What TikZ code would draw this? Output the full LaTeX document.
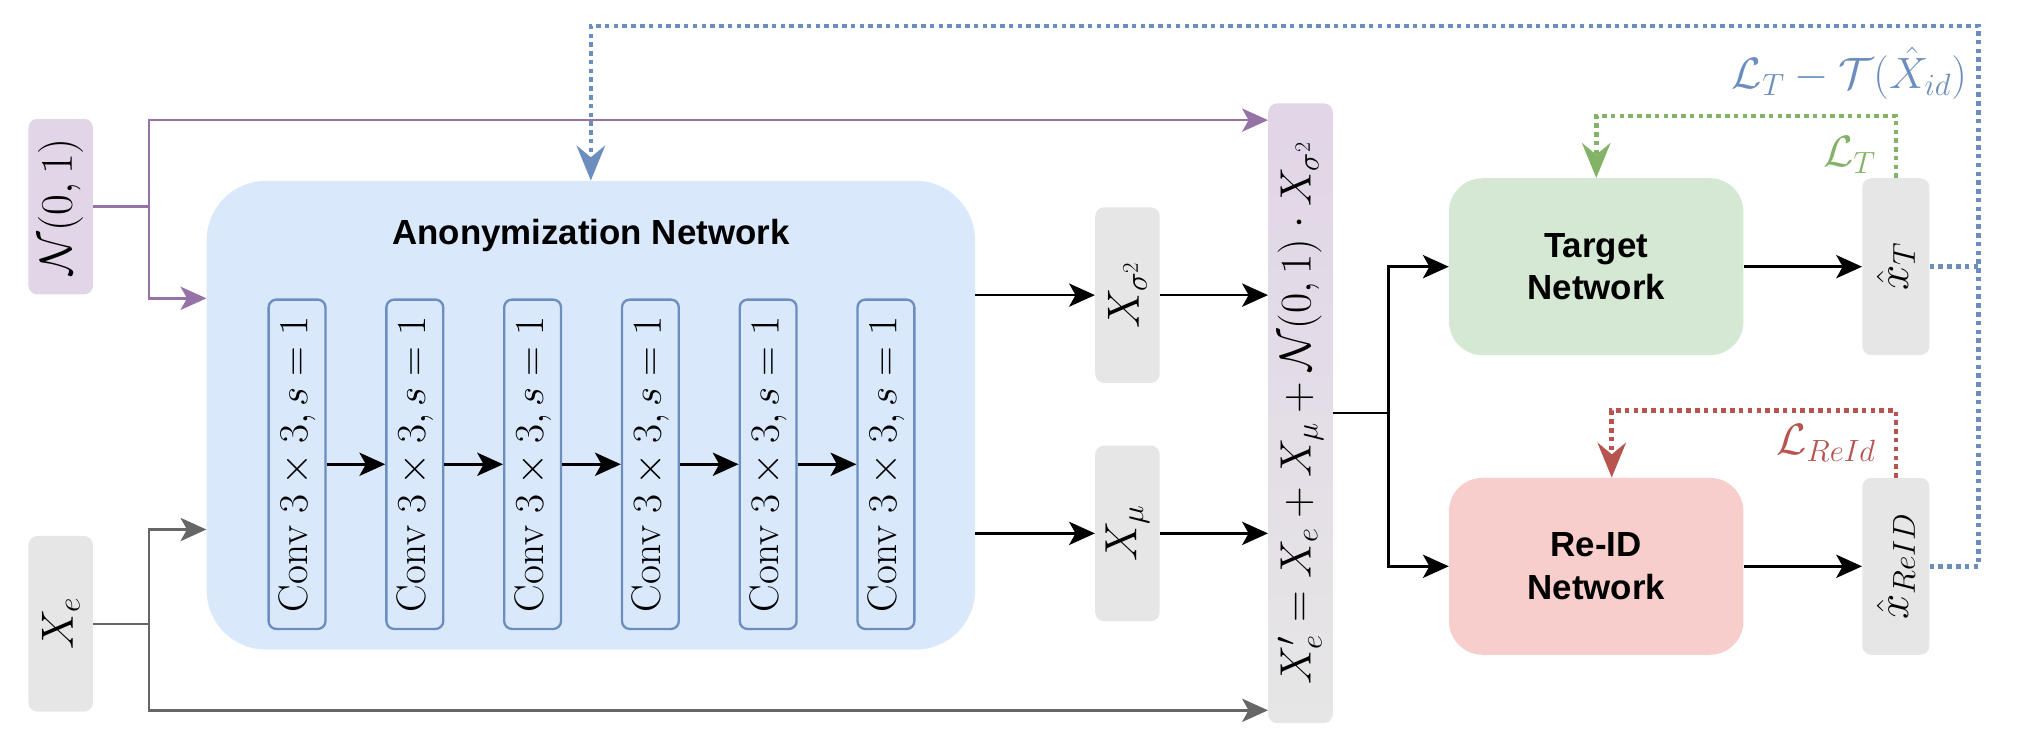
\RequirePackage{fix-cm}
\documentclass[tikz,border=0pt]{standalone}
\usepackage{amsmath}
\usepackage{fontspec}
\newfontfamily\hv{Liberation Sans}
\usetikzlibrary{arrows.meta,calc}

\definecolor{purpFill}{HTML}{E1D5E7}
\definecolor{purpLine}{HTML}{9673A6}
\definecolor{grayFill}{HTML}{E6E6E6}
\definecolor{grayLine}{HTML}{666666}
\definecolor{blueFill}{HTML}{DAE8FC}
\definecolor{blueLine}{HTML}{6C8EBF}
\definecolor{greenFill}{HTML}{D5E8D4}
\definecolor{greenLine}{HTML}{82B366}
\definecolor{redFill}{HTML}{F8CECC}
\definecolor{redLine}{HTML}{B85450}

\tikzset{
  tallbox/.style={rounded corners=7pt, inner sep=0pt, minimum width=50pt, minimum height=136pt, fill=grayFill},
  convbox/.style={rounded corners=6pt, inner sep=0pt, minimum width=44pt, minimum height=255pt,
                  fill=blueFill, draw=blueLine, line width=1.8pt},
  netbox/.style={rounded corners=26pt, inner sep=0pt, minimum width=228pt, minimum height=137pt,
                 align=center, font=\hv\bfseries\fontsize{27}{33}\selectfont},
  mathfont/.style={font=\fontsize{34}{40}\selectfont},
  boxfont/.style={font=\fontsize{35}{40}\selectfont},
  convfont/.style={font=\fontsize{32}{36}\selectfont},
  flow/.style={line width=1.9pt, -{Stealth[length=20pt, width=18pt, inset=5pt]}},
  plain/.style={line width=1.9pt},
  lossline/.style={line width=3.5pt, dash pattern=on 3.5pt off 3.3pt,
                   -{Stealth[length=27pt, width=22pt, inset=9pt]}},
  lossplain/.style={line width=3.5pt, dash pattern=on 3.5pt off 3.3pt},
}

\begin{document}
\begin{tikzpicture}[x=1pt, y=-1pt]
\useasboundingbox (0,0) rectangle (1568,578);

% inputs
\node[tallbox, fill=purpFill, boxfont] (noise) at (47,160) {\rotatebox{90}{$\mathcal{N}(0,1)$}};
\node[tallbox, boxfont] (xe) at (47,483) {\rotatebox{90}{$X_e$}};

% anonymization network with its convolution stack
\node[fill=blueFill, rounded corners=46pt, inner sep=0pt, minimum width=595pt, minimum height=363pt] (anon) at (457.5,321.5) {};
\node[font=\hv\bfseries\fontsize{27}{33}\selectfont] (anontitle) at (457.5,182) {Anonymization Network};
\foreach \i in {0,...,5}{
  \node[convbox, convfont] (conv\i) at ({230+91.2*\i},359.5) {\rotatebox{90}{Conv $3\times3, s=1$}};
}
\foreach \i/\j in {0/1,1/2,2/3,3/4,4/5}{
  \draw[flow] (conv\i.east) -- (conv\j.west);
}

% mean and variance maps
\node[tallbox, boxfont] (xs) at (873,228.5) {\rotatebox{90}{$X_{\sigma^2}$}};
\node[tallbox, boxfont] (xm) at (873,413) {\rotatebox{90}{$X_\mu$}};

% reparameterised output
\node[rounded corners=7pt, inner sep=0pt, minimum width=50pt, minimum height=480pt,
      top color=purpFill, bottom color=grayFill, mathfont] (formula) at (1007,320)
      {\rotatebox{90}{$X'_e = X_e + X_\mu + \mathcal{N}(0,1)\cdot X_{\sigma^2}$}};

% downstream networks
\node[netbox, fill=greenFill] (target) at (1236,206.5) {Target\\Network};
\node[netbox, fill=redFill] (reid) at (1236,438.5) {Re-ID\\Network};
\node[tallbox, minimum width=52pt, minimum height=137pt, boxfont] (xt) at (1468,206.5) {\rotatebox{90}{$\hat{x}_T$}};
\node[tallbox, minimum width=52pt, minimum height=137pt, boxfont] (xr) at (1468,438.5) {\rotatebox{90}{$\hat{x}_{ReID}$}};

% helper levels
\coordinate (lvTop) at (0,93);
\coordinate (lvA) at (0,231);
\coordinate (lvB) at (0,410);
\coordinate (lvC) at (0,550);
\coordinate (bR) at (1532,20);
\coordinate (rIn) at ($(reid.north)+(12,0)$);

% noise branch
\draw[purpLine, plain] (noise.east) -- ++(43,0) coordinate (pj);
\draw[purpLine, flow] (pj) |- (formula.west |- lvTop);
\draw[purpLine, flow] (pj) |- (anon.west |- lvA);

% image branch
\draw[grayLine, plain] (xe.east) -- ++(43,0) coordinate (gj);
\draw[grayLine, flow] (gj) |- (anon.west |- lvB);
\draw[grayLine, flow] (gj) |- (formula.west |- lvC);

% anonymization outputs
\draw[flow] (anon.east |- xs.west) -- (xs.west);
\draw[flow] (anon.east |- xm.west) -- (xm.west);
\draw[flow] (xs.east) -- (formula.west |- xs.east);
\draw[flow] (xm.east) -- (formula.west |- xm.east);

% split to target and re-id
\draw[plain] (formula.east) -- ++(43,0) coordinate (fj);
\draw[flow] (fj) |- (target.west);
\draw[flow] (fj) |- (reid.west);
\draw[flow] (target.east) -- (xt.west);
\draw[flow] (reid.east) -- (xr.west);

% losses
\draw[greenLine, lossline] (xt.north) -- ++(0,-48) -| (target.north);
\draw[redLine, lossline] (xr.north) -- ++(0,-52) -| (rIn);
\draw[blueLine, lossplain] (xt.east) -- (xt.east -| bR);
\draw[blueLine, lossline] (xr.east) -| (bR) -| (anon.north);

\node[text=blueLine, mathfont] (lblue) at (1432,57) {$\mathcal{L}_T - \mathcal{T}(\hat{X}_{id})$};
\node[text=greenLine, mathfont] (lgreen) at (1432,120) {$\mathcal{L}_T$};
\node[text=redLine, mathfont] (lred) at (1414,343) {$\mathcal{L}_{ReId}$};
\end{tikzpicture}
\end{document}
